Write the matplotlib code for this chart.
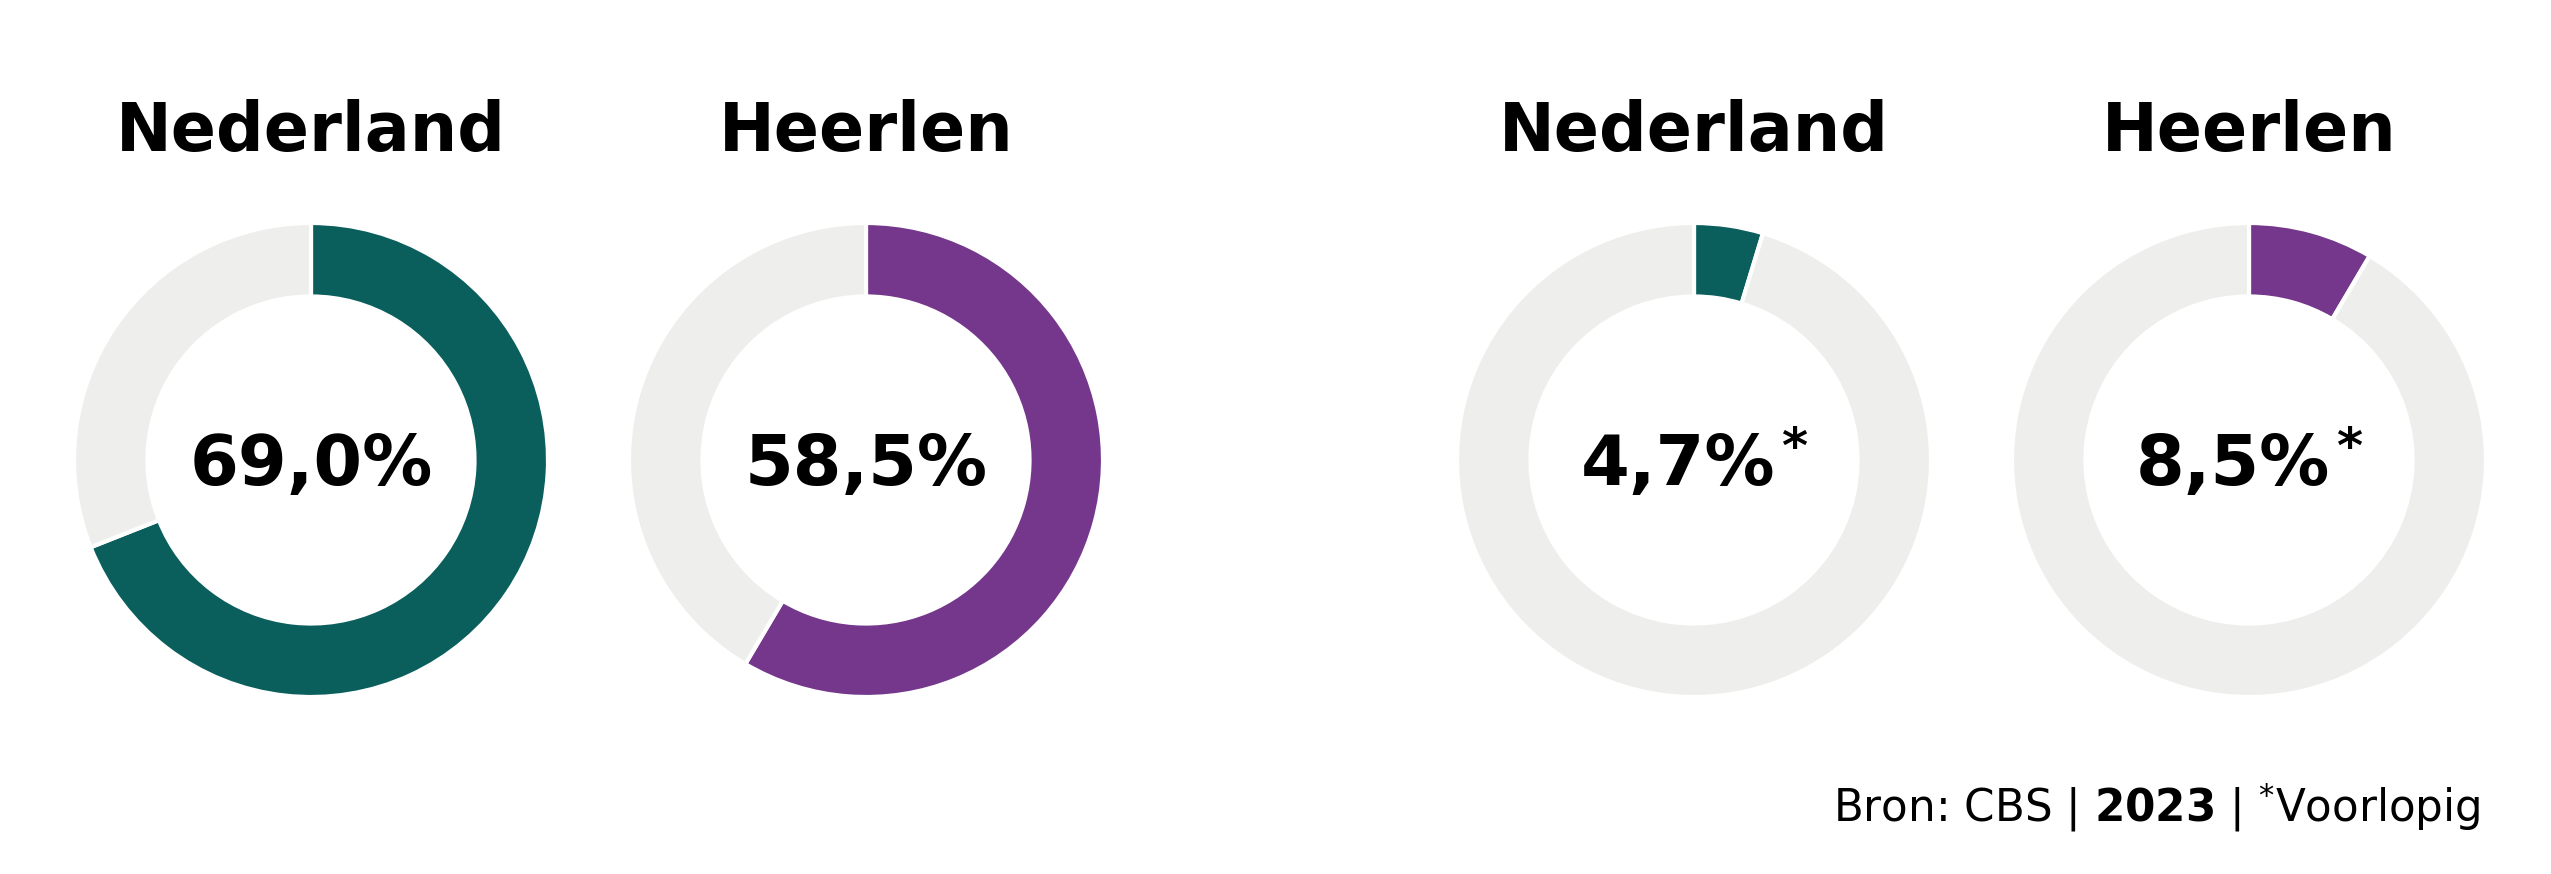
import matplotlib
matplotlib.use("Agg")
import matplotlib.pyplot as plt

# Data
titles = ["Nederland", "Heerlen", "Nederland", "Heerlen"]
values = [69.0, 58.5, 4.7, 8.5]
labels = ["69,0%", "58,5%", "4,7%", "8,5%"]
preliminary = [False, False, True, True]
colors = ["#0a5f5c", "#75378b", "#0a5f5c", "#75378b"]
rest_color = "#eeeeec"
source_text = r"Bron: CBS | $\mathbf{2023}$ | $^{*}$Voorlopig"

W, H = 2551, 874
fig = plt.figure(figsize=(W / 100, H / 100), dpi=100)
ax = fig.add_axes([0, 0, 1, 1])

centers_x = [311, 866, 1694, 2249]
cy = H - 460
R = 237
width = 0.31 * R

for cx, v, col in zip(centers_x, values, colors):
    ax.pie([v, 100 - v], colors=[col, rest_color], startangle=90,
           counterclock=False, radius=R, center=(cx, cy),
           wedgeprops=dict(width=width, edgecolor="white", linewidth=3))

ax.set_xlim(0, W)
ax.set_ylim(0, H)
ax.set_aspect("auto")
ax.axis("off")

renderer = fig.canvas.get_renderer()
for cx, t, lab, pre in zip(centers_x, titles, labels, preliminary):
    ax.text(cx, H - 151, t, ha="center", va="baseline", fontsize=48,
            fontweight="bold", family="DejaVu Sans")
    dx = -16 if pre else 0
    txt = ax.text(cx + dx, H - 485, lab, ha="center", va="baseline",
                  fontsize=50.5, fontweight="bold", family="DejaVu Sans")
    if pre:
        bb = txt.get_window_extent(renderer)
        ax.text(bb.x1 + 6, H - 463, "*", ha="left", va="baseline",
                fontsize=36, fontweight="bold", family="DejaVu Sans")

ax.text(2480, H - 822, source_text, ha="right", va="baseline", fontsize=31.4,
        family="DejaVu Sans")

fig.savefig("out.png", dpi=100, facecolor="white")
